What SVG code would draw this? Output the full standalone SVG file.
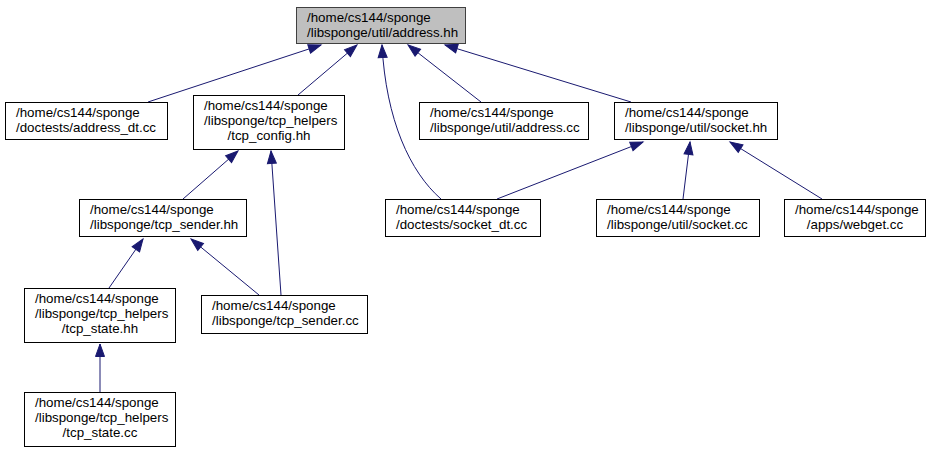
<svg xmlns="http://www.w3.org/2000/svg" width="931" height="453" viewBox="0 0 931 453">
<style>
.n rect{fill:#fff;stroke:#000;stroke-width:1}
#n0 rect{fill:#bfbfbf;stroke:#404040}
text{font-family:"Liberation Sans",Arial,sans-serif;font-size:13.33px;fill:#000}
.c{text-anchor:middle}
.e path{fill:none;stroke:#191970;stroke-width:1;marker-end:url(#a)}
</style>
<defs>
<marker id="a" markerUnits="userSpaceOnUse" markerWidth="14" markerHeight="12" viewBox="-1 -1 14 12" refX="12.5" refY="5" orient="auto" overflow="visible">
<path d="M0,0.5 L12.5,5 L0,9.5 z" fill="#191970" stroke="#191970" stroke-width="1"/>
</marker>
</defs>
<g class="e" id="edges">
<path d="M148,102 L321,45"/>
<path d="M298,95 L357,45"/>
<path d="M441,199 C410,172 386,120 382,45"/>
<path d="M481,102 L408,45"/>
<path d="M631,102 L445,45"/>
<path d="M183,199 L238,151"/>
<path d="M281,295 L271,151"/>
<path d="M109,288 L143,239"/>
<path d="M259,295 L191,239"/>
<path d="M100,392 L100,344"/>
<path d="M497,199 L643,142"/>
<path d="M683,199 L690,142"/>
<path d="M822,199 L730,142"/>
</g>
<g class="n" id="n0"><rect x="296.5" y="7.5" width="169" height="36"/><text x="307" y="22">/home/cs144/sponge</text><text x="307" y="37">/libsponge/util/address.hh</text></g>
<g class="n" id="n1"><rect x="5.5" y="102.5" width="162" height="37"/><text x="16" y="117">/home/cs144/sponge</text><text x="16" y="132">/doctests/address_dt.cc</text></g>
<g class="n" id="n2"><rect x="193.5" y="95.5" width="151" height="54"/><text x="204" y="110">/home/cs144/sponge</text><text x="204" y="125">/libsponge/tcp_helpers</text><text class="c" x="269" y="140">/tcp_config.hh</text></g>
<g class="n" id="n3"><rect x="419.5" y="102.5" width="169" height="37"/><text x="430" y="117">/home/cs144/sponge</text><text x="430" y="132">/libsponge/util/address.cc</text></g>
<g class="n" id="n4"><rect x="614.5" y="102.5" width="163" height="37"/><text x="625" y="117">/home/cs144/sponge</text><text x="625" y="132">/libsponge/util/socket.hh</text></g>
<g class="n" id="n5"><rect x="79.5" y="199.5" width="167" height="37"/><text x="90" y="214">/home/cs144/sponge</text><text x="90" y="229">/libsponge/tcp_sender.hh</text></g>
<g class="n" id="n6"><rect x="385.5" y="199.5" width="155" height="37"/><text x="396" y="214">/home/cs144/sponge</text><text x="396" y="229">/doctests/socket_dt.cc</text></g>
<g class="n" id="n7"><rect x="596.5" y="199.5" width="163" height="37"/><text x="607" y="214">/home/cs144/sponge</text><text x="607" y="229">/libsponge/util/socket.cc</text></g>
<g class="n" id="n8"><rect x="784.5" y="199.5" width="141" height="37"/><text x="795" y="214">/home/cs144/sponge</text><text class="c" x="855" y="229">/apps/webget.cc</text></g>
<g class="n" id="n9"><rect x="24.5" y="288.5" width="151" height="54"/><text x="35" y="303">/home/cs144/sponge</text><text x="35" y="318">/libsponge/tcp_helpers</text><text class="c" x="100" y="333">/tcp_state.hh</text></g>
<g class="n" id="n10"><rect x="201.5" y="295.5" width="166" height="38"/><text x="212" y="310">/home/cs144/sponge</text><text x="212" y="325">/libsponge/tcp_sender.cc</text></g>
<g class="n" id="n11"><rect x="24.5" y="392.5" width="151" height="54"/><text x="35" y="407">/home/cs144/sponge</text><text x="35" y="422">/libsponge/tcp_helpers</text><text class="c" x="100" y="437">/tcp_state.cc</text></g>
</svg>
